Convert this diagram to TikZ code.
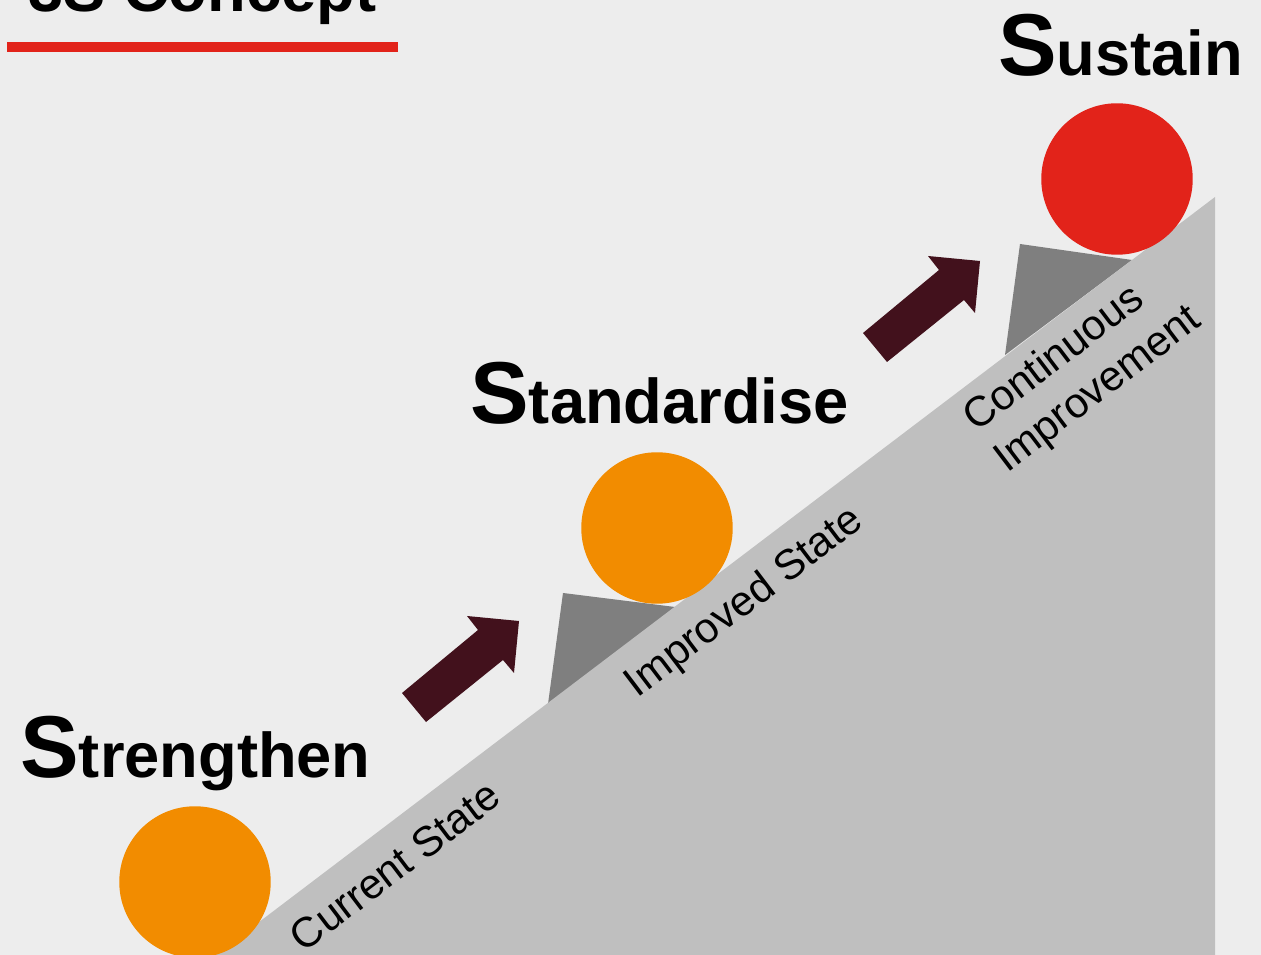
\documentclass[tikz,border=0pt]{standalone}
\usepackage{fontspec}
\setmainfont{Liberation Sans}
\usetikzlibrary{positioning}
\definecolor{bgGray}{HTML}{EDEDED}
\definecolor{slopeGray}{HTML}{BFBFBF}
\definecolor{wedgeGray}{HTML}{7F7F7F}
\definecolor{ballOrange}{HTML}{F28C00}
\definecolor{ballRed}{HTML}{E2231A}
\definecolor{arrowMaroon}{HTML}{42111C}
\tikzset{
	ball/.style={circle, minimum size=3.03cm, inner sep=0pt},
	heading/.style={anchor=base west, inner sep=0pt, font=\bfseries\fontsize{36}{36}\selectfont},
	stage/.style={rotate=37.2, inner sep=0pt, align=center, font=\fontsize{24}{29}\selectfont}
}
\newcommand{\capS}{{\fontsize{50}{50}\selectfont S}}

\begin{document}
\begin{tikzpicture}[x=0.02cm, y=-0.02cm]
	\useasboundingbox (0,0) rectangle (1261,955);
	\clip (0,0) rectangle (1261,955);
	\fill[bgGray] (0,0) rectangle (1261,955);
	% title
	\node[heading] (title) at (28,12) {3S Concept};
	\fill[ballRed] (7,42) rectangle (398,52);
	% wedges and slope
	\fill[wedgeGray] (563,593) -- (675,607) -- (548,704) -- cycle;
	\fill[wedgeGray] (1020,244) -- (1132,260) -- (1005,355) -- cycle;
	\fill[slopeGray] (1215,197) -- (1215,960) -- (209,960) -- cycle;
	% balls
	\node[ball, fill=ballOrange] (strengthen) at (195,882) {};
	\node[ball, fill=ballOrange] (standardise) at (657,528) {};
	\node[ball, fill=ballRed] (sustain) at (1117,179) {};
	% arrows
	\foreach \dx/\dy in {0/0, 461/-360}
		\fill[arrowMaroon, shift={(\dx,\dy)}] (402,693) -- (478,630) -- (467,616) -- (519,621)
			-- (514,673) -- (503,660) -- (426,722) -- cycle;
	% headings
	\node[heading] (hStrengthen) at (20,777) {\capS trengthen};
	\node[heading] (hStandardise) at (470,424) {\capS tandardise};
	\node[heading] (hSustain) at (998,76) {\capS ustain};
	% stage labels
	\node[stage] (current) at (395,866) {Current State};
	\node[stage] (improved) at (745,603) {Improved State};
	\node[stage, align=left] (continuous) at (1083,370) {Continuous\\Improvement};
\end{tikzpicture}
\end{document}
